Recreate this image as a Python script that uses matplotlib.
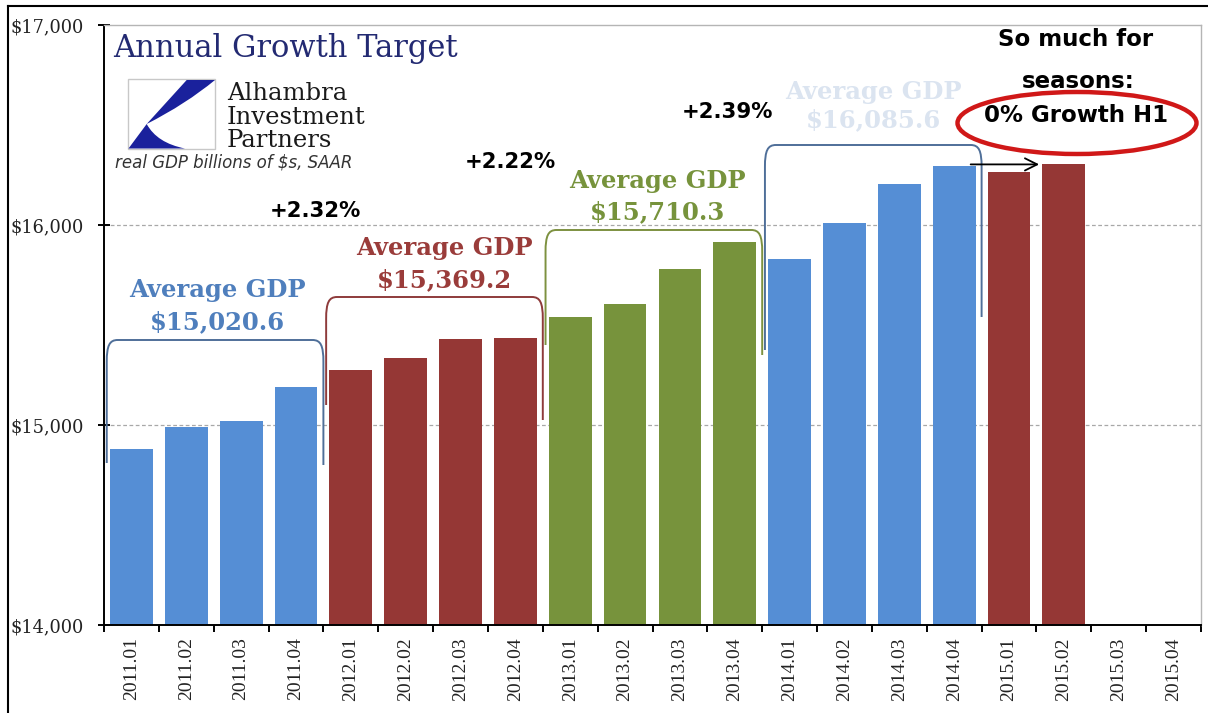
import numpy as np
import matplotlib
matplotlib.use("Agg")
import matplotlib.pyplot as plt
import matplotlib.transforms as mtransforms
from matplotlib.path import Path
from matplotlib.patches import PathPatch, Ellipse, Rectangle
from matplotlib.lines import Line2D

# ---- data: real GDP, billions of chained dollars, SAAR ----
quarters = ["2011.01", "2011.02", "2011.03", "2011.04",
            "2012.01", "2012.02", "2012.03", "2012.04",
            "2013.01", "2013.02", "2013.03", "2013.04",
            "2014.01", "2014.02", "2014.03", "2014.04",
            "2015.01", "2015.02", "2015.03", "2015.04"]
gdp_2011 = [14881.3, 14989.6, 15021.1, 15190.3]
gdp_2012 = [15275.0, 15336.7, 15431.3, 15433.7]
gdp_2013 = [15538.4, 15606.6, 15779.9, 15916.2]
gdp_2014 = [15831.7, 16010.4, 16205.6, 16294.7]
gdp_2015 = [16264.1, 16303.0]
y_ticks = [14000, 15000, 16000, 17000]

years = [gdp_2011, gdp_2012, gdp_2013, gdp_2014, gdp_2015]
year_colors = ["#558ed5", "#953735", "#77933c", "#558ed5", "#953735"]

values = [v for g in years for v in g]
bar_colors = [c for g, c in zip(years, year_colors) for _ in g]
x = np.arange(len(values))

W, H = 1208, 713
fig = plt.figure(figsize=(W / 100, H / 100), dpi=100)
# pixel coordinates measured from the top-left corner of the figure
pix = mtransforms.Affine2D().scale(1 / W, -1 / H).translate(0, 1) + fig.transFigure

ax = fig.add_axes([104 / W, 1 - 625 / H, (1201 - 104) / W, (625 - 25) / H])
ax.bar(x, values, width=0.78, color=bar_colors, zorder=2)

ax.set_xlim(-0.5, len(quarters) - 0.5)
ax.set_ylim(y_ticks[0], y_ticks[-1])
ax.set_yticks(y_ticks)
ax.set_yticklabels([f"${v:,}" for v in y_ticks], family="DejaVu Serif",
                   fontsize=12.8, color="#222222")
ax.set_xticks(np.arange(len(quarters)))
ax.set_xticklabels(quarters, rotation=90, family="Liberation Serif",
                   fontsize=14, color="#222222")
ax.set_xticks(np.arange(-0.5, len(quarters), 1), minor=True)
ax.tick_params(axis="x", which="major", length=0, pad=9)
ax.tick_params(axis="x", which="minor", length=5, width=1.4, direction="out")
ax.tick_params(axis="y", which="major", length=9, width=1.4, direction="inout", pad=10)

for y in y_ticks[1:-1]:
    ax.axhline(y, color="#a8a8a8", lw=0.9, ls=(0, (3, 2)), zorder=1)

for s in ("left", "bottom"):
    ax.spines[s].set_color("black")
    ax.spines[s].set_linewidth(1.4)
for s in ("top", "right"):
    ax.spines[s].set_color("#b5b5b5")
    ax.spines[s].set_linewidth(1.0)


def bracket(x0, x1, ytop, yleft, yright, color, rx=0.2, ry=110):
    verts = [(x0, yleft), (x0, ytop - ry),
             (x0, ytop - ry * 0.25), (x0 + rx * 0.25, ytop), (x0 + rx, ytop),
             (x1 - rx, ytop),
             (x1 - rx * 0.25, ytop), (x1, ytop - ry * 0.25), (x1, ytop - ry),
             (x1, yright)]
    codes = [Path.MOVETO, Path.LINETO,
             Path.CURVE4, Path.CURVE4, Path.CURVE4,
             Path.LINETO,
             Path.CURVE4, Path.CURVE4, Path.CURVE4,
             Path.LINETO]
    ax.add_patch(PathPatch(Path(verts, codes), fill=False, ec=color,
                           lw=1.4, zorder=3, clip_on=False))


# yearly brackets: (first index, last index, top, left foot, right foot, colour)
bracket_specs = [
    (0, 3, 15425, 14810, 14800, "#4f6f99"),
    (4, 7, 15640, 15100, 15025, "#8e3b3b"),
    (8, 11, 15975, 15400, 15350, "#7d9140"),
    (12, 15, 16400, 15375, 15540, "#4f6f99"),
]
for i0, i1, yt, yl, yr, c in bracket_specs:
    bracket(i0 - 0.45, i1 + 0.5, yt, yl, yr, c)

# flat first half of 2015
ax.annotate("", xy=(16.6, gdp_2015[1]), xytext=(15.25, gdp_2015[1]),
            arrowprops=dict(arrowstyle="->", color="black", lw=1.3,
                            mutation_scale=22), zorder=5)

# ---- yearly average labels and growth between years ----
means = [np.mean(g) for g in years[:4]]
avg_colors = ["#4f7fbd", "#9a3c3a", "#77933c", "#dbe4f0"]
avg_pos = [(217, 290, 322), (444, 248, 280), (657, 181, 212), (873, 92, 120)]
for m, c, (cx, y1, y2) in zip(means, avg_colors, avg_pos):
    fig.text(cx, y1, "Average GDP", transform=pix, ha="center", va="center",
             family="DejaVu Serif", weight="bold", fontsize=17.5, color=c)
    fig.text(cx, y2, f"${m:,.1f}", transform=pix, ha="center", va="center",
             family="DejaVu Serif", weight="bold", fontsize=17.5, color=c)

growth_pos = [(315, 211), (510, 162), (727, 112)]
for (a, b), (cx, cy) in zip(zip(means[:-1], means[1:]), growth_pos):
    fig.text(cx, cy, f"+{(b / a - 1) * 100:.2f}%", transform=pix,
             ha="center", va="center", family="DejaVu Sans", weight="bold",
             fontsize=15.3, color="black")

# ---- callout ----
fig.text(1076, 40, "So much for", transform=pix, ha="center", va="center",
         family="DejaVu Sans", weight="bold", fontsize=16.5, color="black")
fig.text(1078, 82, "seasons:", transform=pix, ha="center", va="center",
         family="DejaVu Sans", weight="bold", fontsize=16.5, color="black")
fig.text(1076, 116, "0% Growth H1", transform=pix, ha="center", va="center",
         family="DejaVu Sans", weight="bold", fontsize=16.5, color="black")
fig.add_artist(Ellipse((1077, 123), 239, 62, transform=pix, fill=False,
                       ec="#d01818", lw=3.2))

# ---- title and logo ----
fig.text(113, 49, "Annual Growth Target", transform=pix, ha="left", va="center",
         family="DejaVu Serif", fontsize=22, color="#232a72")

fig.add_artist(Rectangle((128, 79), 87, 70, transform=pix, fill=True,
                         fc="white", ec="#c8c8c8", lw=1.0))
logo_blue = "#1a219c"
upper = Path([(186.7, 80), (215, 80), (186, 104), (146.7, 124), (186.7, 80)],
             [Path.MOVETO, Path.LINETO, Path.CURVE3, Path.CURVE3, Path.CLOSEPOLY])
lower = Path([(128.5, 148.5), (146.7, 124), (157, 143), (185, 148.5), (128.5, 148.5)],
             [Path.MOVETO, Path.LINETO, Path.CURVE3, Path.CURVE3, Path.CLOSEPOLY])
for p in (upper, lower):
    fig.add_artist(PathPatch(p, transform=pix, fc=logo_blue, ec="none"))

for txt, yb in (("Alhambra", 100), ("Investment", 124), ("Partners", 147)):
    fig.text(227, yb, txt, transform=pix, ha="left", va="baseline",
             family="DejaVu Serif", fontsize=17.5, color="#1a1a1a")
fig.text(115, 168, "real GDP billions of $s, SAAR", transform=pix, ha="left",
         va="baseline", family="DejaVu Sans", style="italic", fontsize=12,
         color="#333333")

# frame lines at the top and left edges
fig.add_artist(Line2D([8, 8], [6, H], transform=pix, color="black", lw=1.5))
fig.add_artist(Line2D([8, W], [6, 6], transform=pix, color="black", lw=1.5))

fig.savefig("out.png", dpi=100)
